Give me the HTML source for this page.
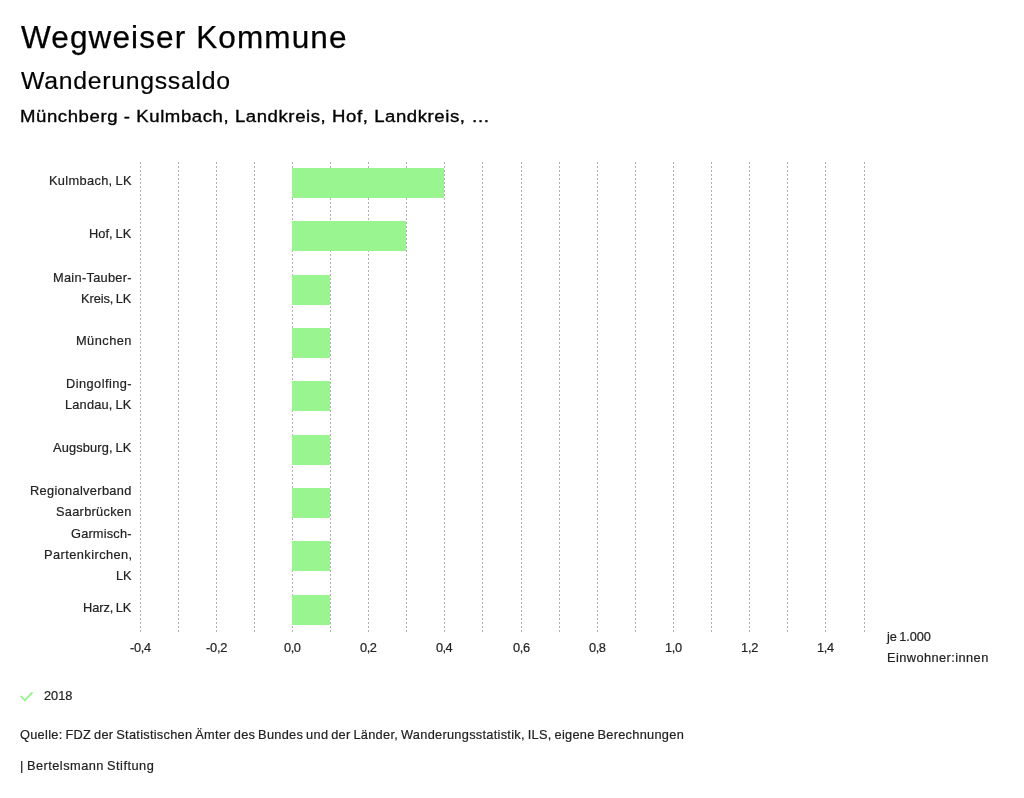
<!DOCTYPE html>
<html lang="de"><head><meta charset="utf-8"><title>Wegweiser Kommune - Wanderungssaldo</title>
<style>
html,body{margin:0;padding:0;background:#fff;}
body{width:1024px;height:798px;position:relative;overflow:hidden;font-family:"Liberation Sans",sans-serif;}
.t{position:absolute;white-space:nowrap;line-height:20px;height:20px;transform-origin:0 0;will-change:transform;}
svg{position:absolute;left:0;top:0;}
</style></head><body>
<svg width="1024" height="798" viewBox="0 0 1024 798" shape-rendering="crispEdges">
<line x1="140.5" y1="162" x2="140.5" y2="632" stroke="#b0b0b0" stroke-width="1" stroke-dasharray="2,2"/>
<line x1="178.5" y1="162" x2="178.5" y2="632" stroke="#b0b0b0" stroke-width="1" stroke-dasharray="2,2"/>
<line x1="216.5" y1="162" x2="216.5" y2="632" stroke="#b0b0b0" stroke-width="1" stroke-dasharray="2,2"/>
<line x1="254.5" y1="162" x2="254.5" y2="632" stroke="#b0b0b0" stroke-width="1" stroke-dasharray="2,2"/>
<line x1="292.5" y1="162" x2="292.5" y2="632" stroke="#b0b0b0" stroke-width="1" stroke-dasharray="2,2"/>
<line x1="330.5" y1="162" x2="330.5" y2="632" stroke="#b0b0b0" stroke-width="1" stroke-dasharray="2,2"/>
<line x1="368.5" y1="162" x2="368.5" y2="632" stroke="#b0b0b0" stroke-width="1" stroke-dasharray="2,2"/>
<line x1="406.5" y1="162" x2="406.5" y2="632" stroke="#b0b0b0" stroke-width="1" stroke-dasharray="2,2"/>
<line x1="444.5" y1="162" x2="444.5" y2="632" stroke="#b0b0b0" stroke-width="1" stroke-dasharray="2,2"/>
<line x1="482.5" y1="162" x2="482.5" y2="632" stroke="#b0b0b0" stroke-width="1" stroke-dasharray="2,2"/>
<line x1="521.5" y1="162" x2="521.5" y2="632" stroke="#b0b0b0" stroke-width="1" stroke-dasharray="2,2"/>
<line x1="559.5" y1="162" x2="559.5" y2="632" stroke="#b0b0b0" stroke-width="1" stroke-dasharray="2,2"/>
<line x1="597.5" y1="162" x2="597.5" y2="632" stroke="#b0b0b0" stroke-width="1" stroke-dasharray="2,2"/>
<line x1="635.5" y1="162" x2="635.5" y2="632" stroke="#b0b0b0" stroke-width="1" stroke-dasharray="2,2"/>
<line x1="673.5" y1="162" x2="673.5" y2="632" stroke="#b0b0b0" stroke-width="1" stroke-dasharray="2,2"/>
<line x1="711.5" y1="162" x2="711.5" y2="632" stroke="#b0b0b0" stroke-width="1" stroke-dasharray="2,2"/>
<line x1="749.5" y1="162" x2="749.5" y2="632" stroke="#b0b0b0" stroke-width="1" stroke-dasharray="2,2"/>
<line x1="787.5" y1="162" x2="787.5" y2="632" stroke="#b0b0b0" stroke-width="1" stroke-dasharray="2,2"/>
<line x1="825.5" y1="162" x2="825.5" y2="632" stroke="#b0b0b0" stroke-width="1" stroke-dasharray="2,2"/>
<line x1="864.5" y1="162" x2="864.5" y2="632" stroke="#b0b0b0" stroke-width="1" stroke-dasharray="2,2"/>
<rect x="292" y="168" width="152" height="30" fill="#98f590"/>
<rect x="292" y="221" width="114" height="30" fill="#98f590"/>
<rect x="292" y="275" width="38" height="30" fill="#98f590"/>
<rect x="292" y="328" width="38" height="30" fill="#98f590"/>
<rect x="292" y="381" width="38" height="30" fill="#98f590"/>
<rect x="292" y="435" width="38" height="30" fill="#98f590"/>
<rect x="292" y="488" width="38" height="30" fill="#98f590"/>
<rect x="292" y="541" width="38" height="30" fill="#98f590"/>
<rect x="292" y="595" width="38" height="30" fill="#98f590"/>
<polyline points="20.6,696.2 24.8,700.2 32.4,692.4" fill="none" stroke="#93f48b" stroke-width="1.8" shape-rendering="geometricPrecision"/>
</svg>
<div class="t" style="font-size:30.6px;color:#000;-webkit-text-stroke:0.25px #000;left:21.49px;top:27px;transform:scaleX(1.0300);letter-spacing:1.082px;">Wegweiser Kommune</div>
<div class="t" style="font-size:24.8px;color:#000;-webkit-text-stroke:0.2px #000;left:21.49px;top:71px;letter-spacing:0.715px;">Wanderungssaldo</div>
<div class="t" style="font-size:17.2px;color:#000;-webkit-text-stroke:0.35px #000;left:19.66px;top:106px;transform:scaleX(1.0800);letter-spacing:0.534px;">Münchberg - Kulmbach, Landkreis, Hof, Landkreis, …</div>
<div class="t" style="font-size:12.8px;color:#222;word-spacing:-0.9px;-webkit-text-stroke:0.2px #222;left:48.78px;top:171px;letter-spacing:0.335px;">Kulmbach, LK</div>
<div class="t" style="font-size:12.8px;color:#222;word-spacing:-0.9px;-webkit-text-stroke:0.2px #222;left:88.96px;top:224px;letter-spacing:0.070px;">Hof, LK</div>
<div class="t" style="font-size:12.8px;color:#222;-webkit-text-stroke:0.2px #222;left:52.75px;top:268px;letter-spacing:0.290px;">Main-Tauber-</div>
<div class="t" style="font-size:12.8px;color:#222;word-spacing:-0.9px;-webkit-text-stroke:0.2px #222;left:80.69px;top:289px;letter-spacing:-0.080px;">Kreis, LK</div>
<div class="t" style="font-size:12.8px;color:#222;-webkit-text-stroke:0.2px #222;left:75.71px;top:331px;letter-spacing:0.462px;">München</div>
<div class="t" style="font-size:12.8px;color:#222;-webkit-text-stroke:0.2px #222;left:65.58px;top:374px;letter-spacing:0.442px;">Dingolfing-</div>
<div class="t" style="font-size:12.8px;color:#222;word-spacing:-0.9px;-webkit-text-stroke:0.2px #222;left:64.59px;top:395px;letter-spacing:0.188px;">Landau, LK</div>
<div class="t" style="font-size:12.8px;color:#222;word-spacing:-0.9px;-webkit-text-stroke:0.2px #222;left:53.27px;top:438px;letter-spacing:0.149px;">Augsburg, LK</div>
<div class="t" style="font-size:12.8px;color:#222;-webkit-text-stroke:0.2px #222;left:29.78px;top:481px;letter-spacing:0.326px;">Regionalverband</div>
<div class="t" style="font-size:12.8px;color:#222;-webkit-text-stroke:0.2px #222;left:55.95px;top:502px;letter-spacing:0.279px;">Saarbrücken</div>
<div class="t" style="font-size:12.8px;color:#222;-webkit-text-stroke:0.2px #222;left:71.16px;top:524px;letter-spacing:0.179px;">Garmisch-</div>
<div class="t" style="font-size:12.8px;color:#222;-webkit-text-stroke:0.2px #222;left:43.78px;top:545px;letter-spacing:0.436px;">Partenkirchen,</div>
<div class="t" style="font-size:12.8px;color:#222;-webkit-text-stroke:0.2px #222;left:115.71px;top:566px;letter-spacing:-0.046px;">LK</div>
<div class="t" style="font-size:12.8px;color:#222;word-spacing:-0.9px;-webkit-text-stroke:0.2px #222;left:82.69px;top:598px;letter-spacing:-0.072px;">Harz, LK</div>
<div class="t" style="font-size:12.8px;color:#222;-webkit-text-stroke:0.2px #222;left:130.18px;top:638px;letter-spacing:-0.290px;">-0,4</div>
<div class="t" style="font-size:12.8px;color:#222;-webkit-text-stroke:0.2px #222;left:206.22px;top:638px;letter-spacing:-0.200px;">-0,2</div>
<div class="t" style="font-size:12.8px;color:#222;-webkit-text-stroke:0.2px #222;left:284.34px;top:638px;letter-spacing:-0.476px;">0,0</div>
<div class="t" style="font-size:12.8px;color:#222;-webkit-text-stroke:0.2px #222;left:360.34px;top:638px;letter-spacing:-0.429px;">0,2</div>
<div class="t" style="font-size:12.8px;color:#222;-webkit-text-stroke:0.2px #222;left:436.23px;top:638px;letter-spacing:-0.525px;">0,4</div>
<div class="t" style="font-size:12.8px;color:#222;-webkit-text-stroke:0.2px #222;left:513.11px;top:638px;letter-spacing:-0.290px;">0,6</div>
<div class="t" style="font-size:12.8px;color:#222;-webkit-text-stroke:0.2px #222;left:589.34px;top:638px;letter-spacing:-0.421px;">0,8</div>
<div class="t" style="font-size:12.8px;color:#222;-webkit-text-stroke:0.2px #222;left:664.78px;top:638px;letter-spacing:-0.277px;">1,0</div>
<div class="t" style="font-size:12.8px;color:#222;-webkit-text-stroke:0.2px #222;left:740.86px;top:638px;letter-spacing:-0.171px;">1,2</div>
<div class="t" style="font-size:12.8px;color:#222;-webkit-text-stroke:0.2px #222;left:816.72px;top:638px;letter-spacing:-0.333px;">1,4</div>
<div class="t" style="font-size:12.8px;color:#222;word-spacing:-0.9px;-webkit-text-stroke:0.2px #222;left:887.13px;top:627px;letter-spacing:-0.099px;">je 1.000</div>
<div class="t" style="font-size:12.8px;color:#222;-webkit-text-stroke:0.2px #222;left:886.71px;top:648px;letter-spacing:0.425px;">Einwohner:innen</div>
<div class="t" style="font-size:12.8px;color:#222;-webkit-text-stroke:0.2px #222;left:44.20px;top:686px;letter-spacing:0.000px;">2018</div>
<div class="t" style="font-size:12.8px;color:#222;word-spacing:-0.9px;-webkit-text-stroke:0.2px #222;left:19.87px;top:725px;letter-spacing:0.274px;">Quelle: FDZ der Statistischen Ämter des Bundes und der Länder, Wanderungsstatistik, ILS, eigene Berechnungen</div>
<div class="t" style="font-size:12.8px;color:#222;word-spacing:-0.9px;-webkit-text-stroke:0.2px #222;left:20.07px;top:756px;letter-spacing:0.471px;">| Bertelsmann Stiftung</div>
</body></html>
